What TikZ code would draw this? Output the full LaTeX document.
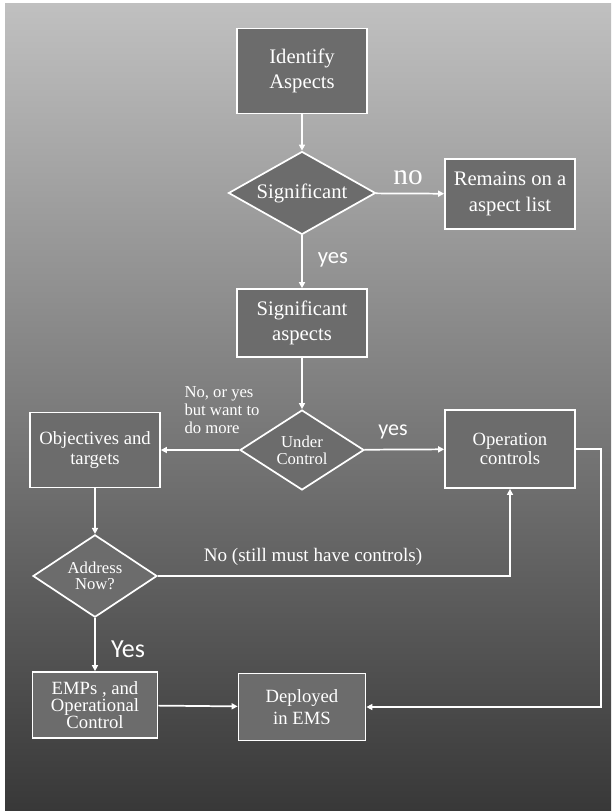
\documentclass[tikz,border=0pt]{standalone}
\usepackage{fontspec}
\setmainfont{Liberation Serif}
\newfontfamily\answerFont{Carlito}
\usetikzlibrary{positioning, shapes.geometric, arrows.meta}
\definecolor{boxColor}{RGB}{108,108,108}
\definecolor{topShade}{RGB}{192,192,192}
\definecolor{bottomShade}{RGB}{56,56,56}
\tikzstyle{chart} = [x = .75pt, y = -.75pt]
\tikzstyle{stepBox} = [draw=white, fill=boxColor, line width=1.3pt, text=white, align=center, inner sep=1pt, minimum width=97.5pt]
\tikzstyle{decisionStyle} = [diamond, draw=white, fill=boxColor, line width=1.3pt, text=white, align=center, inner sep=0pt]
\tikzstyle{flowLine} = [draw=white, line width=1.3pt, -{Triangle[length=4.5pt, width=4.5pt]}]
\tikzstyle{flowLabel} = [text=white, inner sep=0pt]
\newcommand{\bigText}{\fontsize{15.5}{19}\selectfont}
\newcommand{\midText}{\fontsize{14}{14.5}\selectfont}
\newcommand{\smallText}{\fontsize{12.5}{13}\selectfont}

\begin{document}
\begin{tikzpicture}[chart]
  % page and shaded backdrop
  \fill [white] (0,0) rectangle (611,811);
  \shade [top color=topShade, bottom color=bottomShade] (5,3) rectangle (611,811);
  \useasboundingbox (0,0) rectangle (611,811);

  % steps
  \node [stepBox, minimum height=63.75pt, font=\bigText] (identify) at (302,71) {Identify\\Aspects};
  \node [decisionStyle, aspect=1.9, minimum width=110.25pt, minimum height=62.25pt, font=\bigText] (significant) at (302,193) {Significant};
  \node [stepBox, minimum height=52.5pt, font=\bigText] (remains) at (510,194) {Remains on a\\aspect list};
  \node [stepBox, minimum height=51pt, font=\bigText] (sigAspects) at (302,323) {Significant\\aspects};
  \node [decisionStyle, minimum width=93pt, minimum height=57pt, font=\smallText] (underControl) at (302,450) {Under\\Control};
  \node [stepBox, minimum height=56.25pt, font=\fontsize{14}{15}\selectfont] (objectives) at (95,450) {Objectives and\\targets};
  \node [stepBox, minimum height=58.5pt, font=\midText] (operation) at (510,449) {Operation\\controls};
  \node [decisionStyle, minimum width=93pt, minimum height=60pt, font=\fontsize{12.5}{12}\selectfont] (addressNow) at (95,576) {Address\\Now?};
  \node [stepBox, minimum width=93.75pt, minimum height=49.5pt, font=\fontsize{14}{13}\selectfont] (emps) at (95,705) {EMPs , and\\Operational\\Control};
  \node [stepBox, minimum width=95.25pt, minimum height=50.25pt, font=\fontsize{14}{17}\selectfont] (deployed) at (302,707) {Deployed\\in EMS};
  \coordinate (loopCorner) at (601,449);

  % connectors
  \draw [flowLine] (identify) -- (significant);
  \draw [flowLine] (significant) -- (remains);
  \draw [flowLine] (significant) -- (sigAspects);
  \draw [flowLine] (sigAspects) -- (underControl);
  \draw [flowLine] (underControl) -- (objectives);
  \draw [flowLine] (underControl) -- (operation);
  \draw [flowLine] (objectives) -- (addressNow);
  \draw [flowLine] (addressNow.east) -| (operation.south);
  \draw [flowLine] (addressNow) -- (emps);
  \draw [flowLine] (emps) -- (deployed);
  \draw [flowLine] (operation.east) -- (loopCorner) |- (deployed.east);

  % answers
  \node [flowLabel, font=\fontsize{22}{22}\selectfont] (noLabel) at (408,178) {no};
  \node [flowLabel, font=\answerFont\fontsize{17}{17}\selectfont] (yesSig) at (333,260) {yes};
  \node [flowLabel, align=left, font=\fontsize{12.5}{13.5}\selectfont] (moreLabel) at (222,410) {No, or yes\\but want to\\do more};
  \node [flowLabel, font=\answerFont\fontsize{16.5}{16.5}\selectfont] (yesUnder) at (393,432) {yes};
  \node [flowLabel, font=\fontsize{14.3}{15}\selectfont] (stillLabel) at (313,557) {No (still must have controls)};
  \node [flowLabel, font=\answerFont\fontsize{19.5}{19.5}\selectfont] (yesAddress) at (128,649) {Yes};
\end{tikzpicture}
\end{document}
